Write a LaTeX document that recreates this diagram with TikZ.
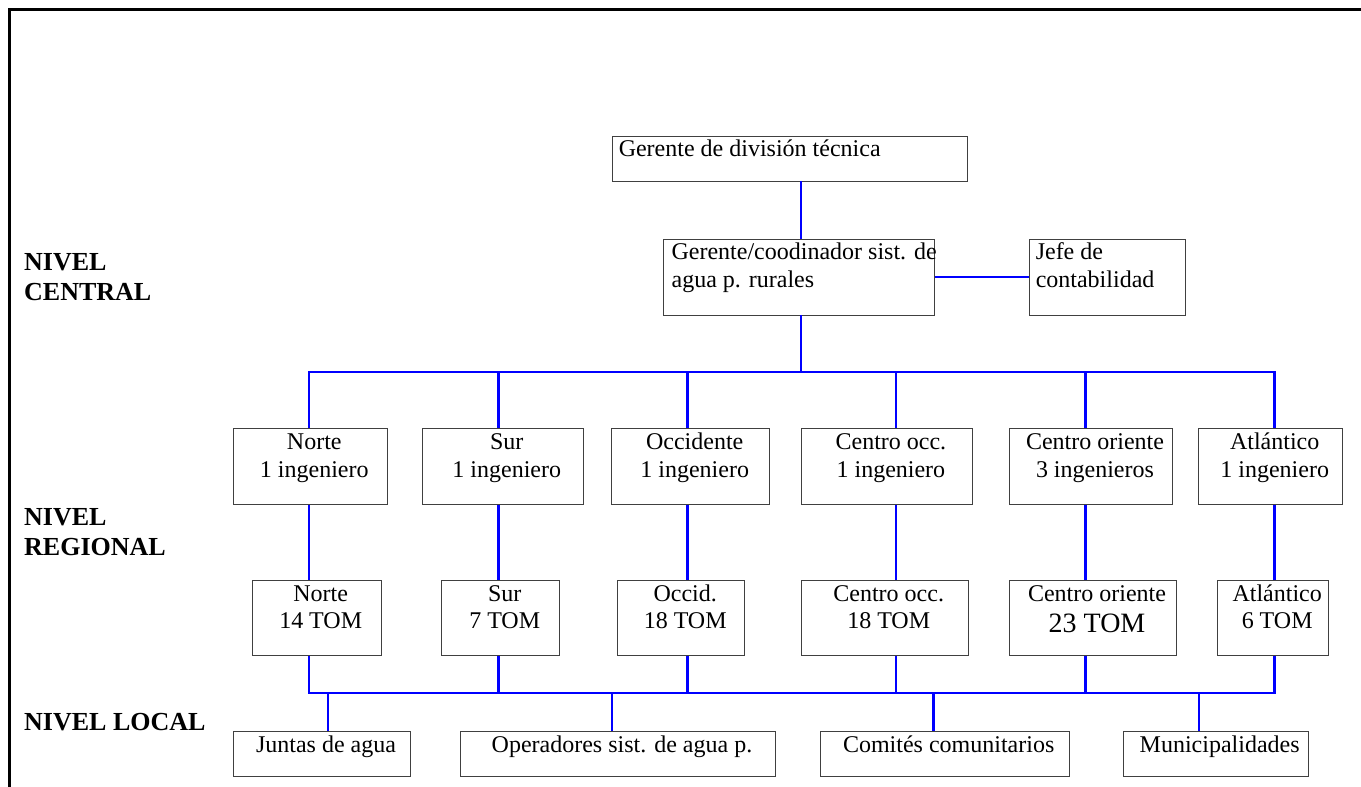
\documentclass[tikz,border=0pt]{standalone}
\usepackage{fontspec}
\setmainfont{Liberation Serif}[BoldFont={Liberation Serif Bold}]
\newcommand\fsnorm{\fontsize{24}{27.6}\selectfont}
\newcommand\fsbig{\fontsize{28}{32}\selectfont}
\newcommand\fslab{\fontsize{26}{30}\selectfont\bfseries}
\newcommand\topstrut{\rule{0pt}{17pt}}
\newcommand\labstrut{\rule{0pt}{20pt}}
\begin{document}
\begin{tikzpicture}[x=1pt,y=-1pt,
  box/.style={draw=black!75, line width=0.9pt, inner sep=0pt, fill=white},
  ctxt/.style={inner sep=0pt, align=center, anchor=north, font=\fsnorm},
  ltxt/.style={inner sep=0pt, align=left, anchor=north west, font=\fsnorm},
  lab/.style={inner sep=0pt, align=left, anchor=north west, font=\fslab},
  conn/.style={draw=blue, line width=2.6pt},
  frame/.style={draw=black, line width=2.5pt}
  ]
\useasboundingbox (0,0) rectangle (1361,787);
\fill[white] (0,0) rectangle (1361,787);
\draw[frame] (9.5,787) -- (9.5,9.5) -- (1361,9.5);

% central level
\node[box, minimum width=355pt, minimum height=45pt] (top) at (789.5,158.5) {};
\node[box, minimum width=270.7pt, minimum height=76pt] (coord) at (798.7,277) {};
\node[box, minimum width=156pt, minimum height=76pt] (jefe) at (1107,277) {};

% regional level (engineers)
\node[box, minimum width=154pt, minimum height=75.3pt] (R1) at (310.3,466.4) {};
\node[box, minimum width=160.3pt, minimum height=75.3pt] (R2) at (502.8,466.4) {};
\node[box, minimum width=158pt, minimum height=75.3pt] (R3) at (690.7,466.4) {};
\node[box, minimum width=170.3pt, minimum height=75.3pt] (R4) at (886.9,466.4) {};
\node[box, minimum width=162.6pt, minimum height=75.3pt] (R5) at (1091,466.4) {};
\node[box, minimum width=144pt, minimum height=75.3pt] (R6) at (1270.7,466.4) {};

% regional level (TOM)
\node[box, minimum width=128.7pt, minimum height=75.4pt] (T1) at (316.7,618) {};
\node[box, minimum width=118pt, minimum height=75.4pt] (T2) at (500.7,618) {};
\node[box, minimum width=127pt, minimum height=75.4pt] (T3) at (681.2,618) {};
\node[box, minimum width=166.7pt, minimum height=75.4pt] (T4) at (884.7,618) {};
\node[box, minimum width=166.6pt, minimum height=75.4pt] (T5) at (1093,618) {};
\node[box, minimum width=111pt, minimum height=75.4pt] (T6) at (1273.2,618) {};

% local level
\node[box, minimum width=177.4pt, minimum height=45pt] (L1) at (322,754.2) {};
\node[box, minimum width=314.6pt, minimum height=45pt] (L2) at (618,754.2) {};
\node[box, minimum width=249.3pt, minimum height=45pt] (L3) at (944.7,754.2) {};
\node[box, minimum width=184.7pt, minimum height=45pt] (L4) at (1215.7,754.2) {};

% junction coordinates
\coordinate (c0) at (801,372);
\coordinate (d1) at (309,372);
\coordinate (d2) at (498.3,372);
\coordinate (d3) at (687.7,372);
\coordinate (d4) at (896,372);
\coordinate (d5) at (1085.3,372);
\coordinate (d6) at (1274.7,372);
\coordinate (e1) at (309,693);
\coordinate (e2) at (498.3,693);
\coordinate (e3) at (687.7,693);
\coordinate (e4) at (896,693);
\coordinate (e5) at (1085.3,693);
\coordinate (e6) at (1274.7,693);
\coordinate (f1) at (328,693);
\coordinate (f2) at (612,693);
\coordinate (f3) at (933.7,693);
\coordinate (f4) at (1199,693);

% connectors
\draw[conn] (top.south -| c0) -- (coord.north -| c0);
\draw[conn] (coord.south -| c0) -- (c0);
\draw[conn] (coord.east) -- (jefe.west);
\draw[conn] (R1.north -| d1) -- (d1) -- (d6) -- (R6.north -| d6);
\foreach \i in {2,...,5} { \draw[conn] (d\i) -- (R\i.north -| d\i); }
\foreach \i in {1,...,6} { \draw[conn] (R\i.south -| d\i) -- (T\i.north -| d\i); }
\draw[conn] (T1.south -| e1) -- (e1) -- (e6) -- (T6.south -| e6);
\foreach \i in {2,...,5} { \draw[conn] (T\i.south -| e\i) -- (e\i); }
\foreach \i in {1,...,4} { \draw[conn] (f\i) -- (L\i.north -| f\i); }

% texts
\node[ltxt] (ttop) at ([xshift=7pt,yshift=-4pt]top.north west) {\topstrut Gerente de división técnica};
\node[ltxt] (tcoord) at ([xshift=8.5pt,yshift=-4pt]coord.north west) {\topstrut Gerente/coodinador sist. de\\agua p. rurales};
\node[ltxt] (tjefe) at ([xshift=7pt,yshift=-4pt]jefe.north west) {\topstrut Jefe de\\contabilidad};

\node[ctxt] (tR1) at ([xshift=4pt,yshift=-4pt]R1.north) {\topstrut Norte\\1 ingeniero};
\node[ctxt] (tR2) at ([xshift=4pt,yshift=-4pt]R2.north) {\topstrut Sur\\1 ingeniero};
\node[ctxt] (tR3) at ([xshift=4pt,yshift=-4pt]R3.north) {\topstrut Occidente\\1 ingeniero};
\node[ctxt] (tR4) at ([xshift=4pt,yshift=-4pt]R4.north) {\topstrut Centro occ.\\1 ingeniero};
\node[ctxt] (tR5) at ([xshift=4pt,yshift=-4pt]R5.north) {\topstrut Centro oriente\\3 ingenieros};
\node[ctxt] (tR6) at ([xshift=4pt,yshift=-4pt]R6.north) {\topstrut Atlántico\\1 ingeniero};

\node[ctxt] (tT1) at ([xshift=4pt,yshift=-4pt]T1.north) {\topstrut Norte\\14 TOM};
\node[ctxt] (tT2) at ([xshift=4pt,yshift=-4pt]T2.north) {\topstrut Sur\\7 TOM};
\node[ctxt] (tT3) at ([xshift=4pt,yshift=-4pt]T3.north) {\topstrut Occid.\\18 TOM};
\node[ctxt] (tT4) at ([xshift=4pt,yshift=-4pt]T4.north) {\topstrut Centro occ.\\18 TOM};
\node[ctxt] (tT5) at ([xshift=4pt,yshift=-4pt]T5.north) {\topstrut Centro oriente\\[3.5pt]{\fsbig 23 TOM}};
\node[ctxt] (tT6) at ([xshift=4pt,yshift=-4pt]T6.north) {\topstrut Atlántico\\6 TOM};

\node[ctxt] (tL1) at ([xshift=4pt,yshift=-4pt]L1.north) {\topstrut Juntas de agua};
\node[ctxt] (tL2) at ([xshift=4pt,yshift=-4pt]L2.north) {\topstrut Operadores sist. de agua p.};
\node[ctxt] (tL3) at ([xshift=4pt,yshift=-4pt]L3.north) {\topstrut Comités comunitarios};
\node[ctxt] (tL4) at ([xshift=4pt,yshift=-4pt]L4.north) {\topstrut Municipalidades};

% level labels
\node[lab] (lcentral) at (24,250) {\labstrut NIVEL\\CENTRAL};
\node[lab] (lregional) at (24,505.7) {\labstrut NIVEL\\REGIONAL};
\node[lab] (llocal) at (24,710) {\labstrut NIVEL LOCAL};
\end{tikzpicture}
\end{document}
